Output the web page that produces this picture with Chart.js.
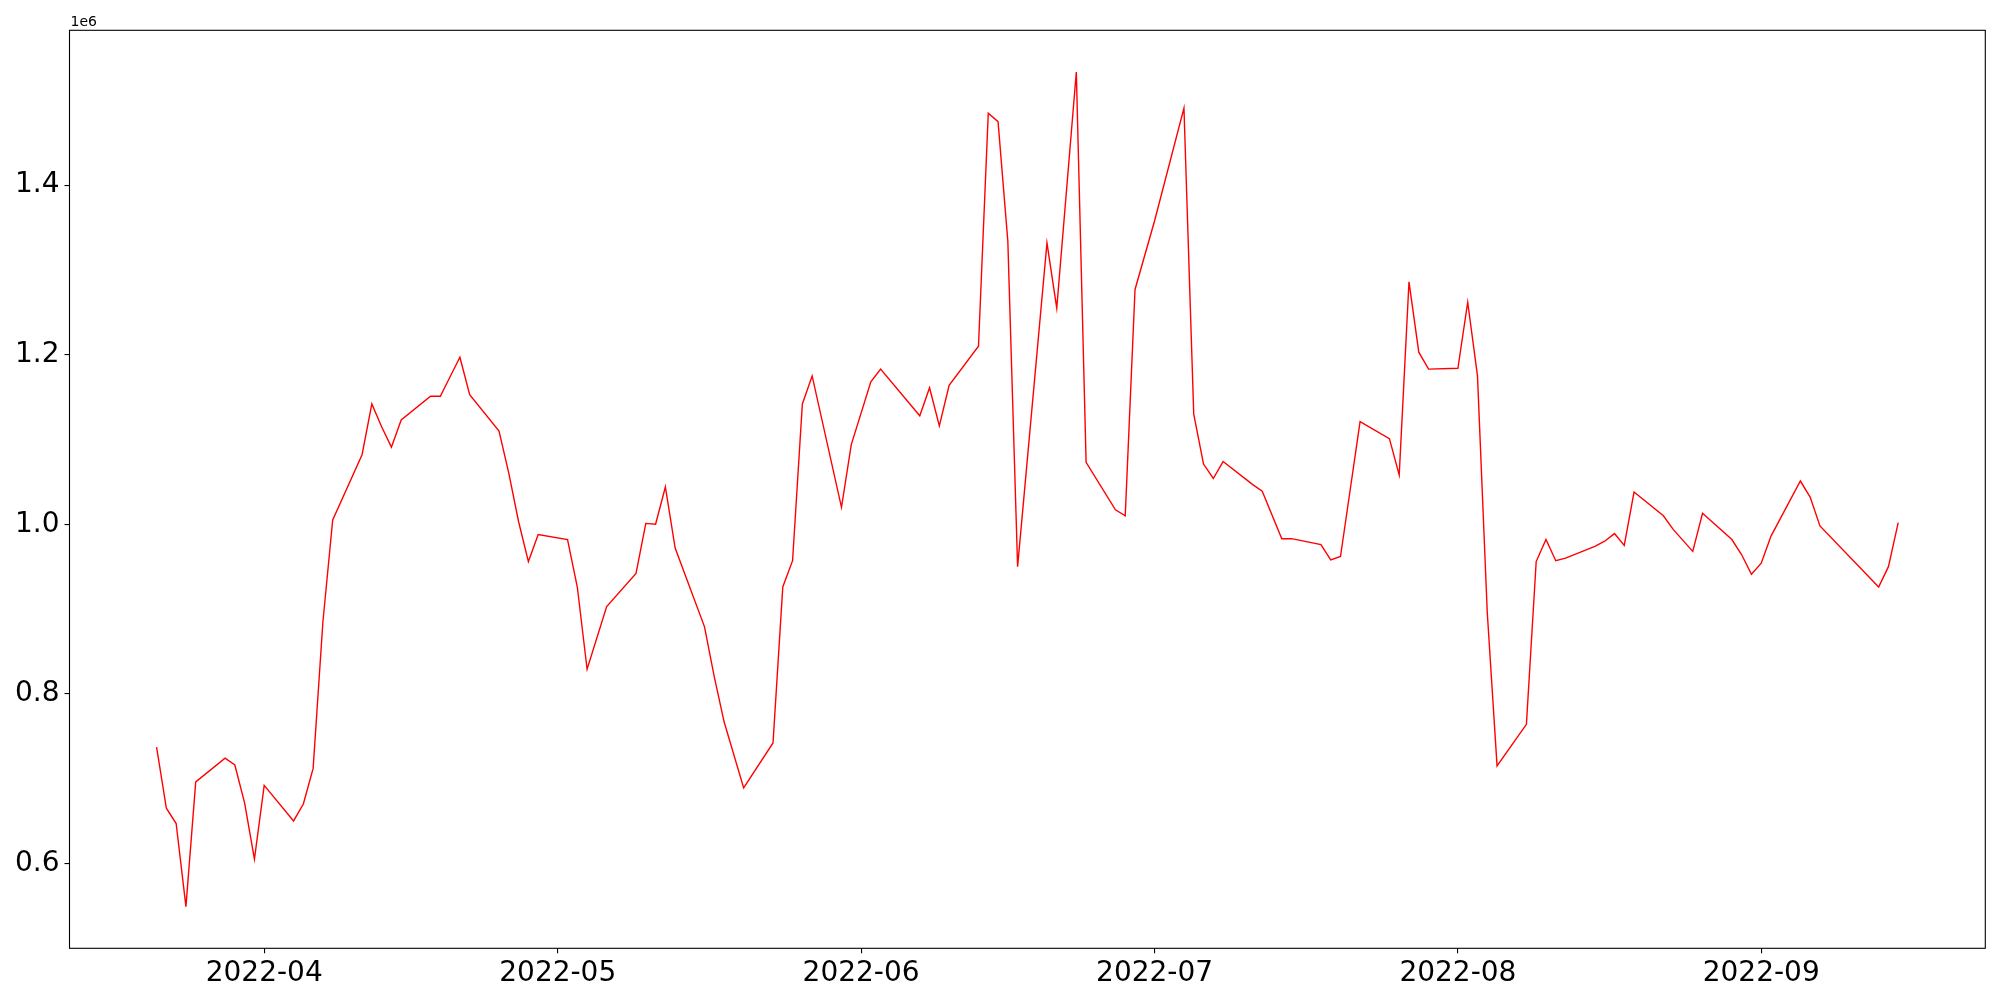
<!DOCTYPE html>
<html>
<head>
<meta charset="utf-8">
<script src="https://cdn.jsdelivr.net/npm/chart.js@4.4.0/dist/chart.umd.min.js"></script>
<style>
html,body{margin:0;padding:0;background:#ffffff;}
#wrap{width:2000px;height:1000px;position:relative;}
</style>
</head>
<body>
<div id="wrap"><canvas id="c" width="2000" height="1000"></canvas></div>
<script>
const dates = [
"2022-03-21","2022-03-22","2022-03-23","2022-03-24","2022-03-25",
"2022-03-28","2022-03-29","2022-03-30","2022-03-31","2022-04-01",
"2022-04-04","2022-04-05","2022-04-06","2022-04-07","2022-04-08",
"2022-04-11","2022-04-12","2022-04-13","2022-04-14","2022-04-15",
"2022-04-18","2022-04-19","2022-04-20","2022-04-21","2022-04-22",
"2022-04-25","2022-04-26","2022-04-27","2022-04-28","2022-04-29",
"2022-05-02","2022-05-03","2022-05-04","2022-05-06",
"2022-05-09","2022-05-10","2022-05-11","2022-05-12","2022-05-13",
"2022-05-16","2022-05-17","2022-05-18","2022-05-20",
"2022-05-23","2022-05-24","2022-05-25","2022-05-26","2022-05-27",
"2022-05-30","2022-05-31","2022-06-02","2022-06-03",
"2022-06-07","2022-06-08","2022-06-09","2022-06-10",
"2022-06-13","2022-06-14","2022-06-15","2022-06-16","2022-06-17",
"2022-06-20","2022-06-21","2022-06-23","2022-06-24",
"2022-06-27","2022-06-28","2022-06-29","2022-07-01",
"2022-07-04","2022-07-05","2022-07-06","2022-07-07","2022-07-08",
"2022-07-11","2022-07-12","2022-07-14","2022-07-15",
"2022-07-18","2022-07-19","2022-07-20","2022-07-22",
"2022-07-25","2022-07-26","2022-07-27","2022-07-28","2022-07-29",
"2022-08-01","2022-08-02","2022-08-03","2022-08-04","2022-08-05",
"2022-08-08","2022-08-09","2022-08-10","2022-08-11","2022-08-12",
"2022-08-15","2022-08-16","2022-08-17","2022-08-18","2022-08-19",
"2022-08-22","2022-08-23","2022-08-25","2022-08-26",
"2022-08-29","2022-08-30","2022-08-31","2022-09-01","2022-09-02",
"2022-09-05","2022-09-06","2022-09-07",
"2022-09-13","2022-09-14","2022-09-15"
];
const values = [
737000,665000,647000,549000,696000,
724000,716000,671000,605000,692000,
650000,670000,712000,885000,1005000,
1082000,1142000,1115000,1091000,1123000,
1151000,1151000,1174000,1197000,1153000,
1110000,1060000,1003000,956000,988000,
982000,926000,829000,903000,
942000,1001000,1000000,1044000,972000,
879000,820000,767000,689000,
742000,926000,957000,1142000,1175000,
1020000,1094000,1168000,1183000,
1128000,1161000,1116000,1164000,
1210000,1485000,1475000,1334000,950000,
1332000,1255000,1533500,1073000,
1017000,1010000,1277000,1358000,
1491000,1130000,1071000,1054000,1074000,
1047000,1039000,983000,983000,
976000,958000,962000,1121000,
1101000,1058000,1286000,1203000,1183000,
1184000,1262000,1175000,896000,715000,
764000,956000,982000,957000,960000,
974000,980000,989000,975000,1038000,
1010000,994000,968000,1013000,
982000,964000,941000,954000,986000,
1051000,1032000,998000,
926000,950000,1002000
];
const xTickLabels = ["2022-04","2022-05","2022-06","2022-07","2022-08","2022-09"];
const yTickValues = [600000,800000,1000000,1200000,1400000];
const yTickLabels = ["0.6","0.8","1.0","1.2","1.4"];
const offsetLabel = "1e6";

function dayNum(s){
  const p = s.split("-").map(Number);
  return Date.UTC(p[0], p[1]-1, p[2]||1) / 86400000;
}

const xs = dates.map(dayNum);
const xMin0 = Math.min(...xs), xMax0 = Math.max(...xs);
const xm = 0.05*(xMax0-xMin0);
const yMin0 = Math.min(...values), yMax0 = Math.max(...values);
const ym = 0.05*(yMax0-yMin0);

const FONT = '"DejaVu Sans", "Liberation Sans", sans-serif';

const framePlugin = {
  id:'frame',
  afterDraw(chart){
    const a = chart.chartArea, ctx = chart.ctx;
    ctx.save();
    ctx.strokeStyle = '#000';
    ctx.lineWidth = 1.1;
    ctx.strokeRect(a.left, a.top, a.right-a.left, a.bottom-a.top);
    ctx.fillStyle = '#000';
    ctx.font = '14px ' + FONT;
    ctx.textAlign = 'left';
    ctx.textBaseline = 'alphabetic';
    ctx.fillText(offsetLabel, a.left + 1, a.top - 4);
    ctx.restore();
  }
};

new Chart(document.getElementById('c'), {
  type:'line',
  data:{
    datasets:[{
      data: xs.map((x,i)=>({x:x, y:values[i]})),
      borderColor:'#ff0000',
      borderWidth:1.4,
      pointRadius:0,
      tension:0,
      fill:false
    }]
  },
  options:{
    responsive:false,
    animation:false,
    layout:{padding:{left:0,right:14.7,top:30.3,bottom:0}},
    plugins:{legend:{display:false},tooltip:{enabled:false}},
    scales:{
      x:{
        type:'linear',
        min:xMin0-xm,
        max:xMax0+xm,
        afterBuildTicks(s){ s.ticks = xTickLabels.map(l=>({value:dayNum(l+"-01")})); },
        afterFit(s){ s.height = 51.7; },
        ticks:{
          autoSkip:false, maxRotation:0, minRotation:0,
          padding:4,
          color:'#000',
          font:{family:FONT,size:28},
          callback:(v,i)=>xTickLabels[i]
        },
        grid:{display:true,drawOnChartArea:false,drawTicks:true,tickLength:5,color:'#000',lineWidth:1.1},
        border:{display:false}
      },
      y:{
        type:'linear',
        min:yMin0-ym,
        max:yMax0+ym,
        afterBuildTicks(s){ s.ticks = yTickValues.map(v=>({value:v})); },
        afterFit(s){ s.width = 69.5; },
        ticks:{
          autoSkip:false,
          padding:5,
          color:'#000',
          font:{family:FONT,size:28},
          callback:(v,i)=>yTickLabels[i]
        },
        grid:{display:true,drawOnChartArea:false,drawTicks:true,tickLength:5,color:'#000',lineWidth:1.1},
        border:{display:false}
      }
    }
  },
  plugins:[framePlugin]
});
</script>
</body>
</html>
